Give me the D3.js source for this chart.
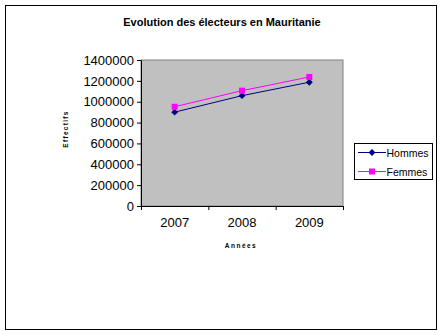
<!DOCTYPE html>
<html><head><meta charset="utf-8">
<script src="https://cdn.jsdelivr.net/npm/d3@7"></script>
<style>body{margin:0;background:#fff}svg{display:block}</style>
</head><body>
<script>
const title = "Evolution des électeurs en Mauritanie";
const years = ["2007", "2008", "2009"];
const hommes = [900000, 1058000, 1187000];
const femmes = [952000, 1106000, 1237000];
const yTicks = [0, 200000, 400000, 600000, 800000, 1000000, 1200000, 1400000];
const seriesNames = ["Hommes", "Femmes"];

const W = 444, H = 336;
const svg = d3.select("body").append("svg").attr("width", W).attr("height", H);
svg.append("rect").attr("x", 5.5).attr("y", 5.5).attr("width", 431).attr("height", 324)
  .attr("fill", "#fff").attr("stroke", "#000").attr("stroke-width", 1);

svg.append("text").attr("x", 222).attr("y", 26).attr("text-anchor", "middle")
  .attr("font-family", "Liberation Sans, Arial").attr("font-weight", "bold").attr("font-size", 11)
  .text(title);

const L = 141, R = 343, T = 60, B = 206;
const x = d3.scaleBand().domain(years).range([L, R]);
const y = d3.scaleLinear().domain([0, 1400000]).range([B, T]);

svg.append("rect").attr("x", L).attr("y", T).attr("width", R - L).attr("height", B - T)
  .attr("fill", "#C0C0C0").attr("stroke", "#808080").attr("stroke-width", 1);

const yAxis = svg.append("g").attr("transform", `translate(${L},0)`)
  .call(d3.axisLeft(y).tickValues(yTicks).tickSize(4).tickPadding(3).tickFormat(d3.format("d")));
yAxis.select(".domain").attr("stroke", "#000");
yAxis.selectAll("line").attr("stroke", "#000");
yAxis.selectAll("text").attr("font-family", "Liberation Sans, Arial").attr("font-size", 13).attr("fill", "#000");

const xAxis = svg.append("g").attr("transform", `translate(0,${B})`)
  .call(d3.axisBottom(x).tickSize(0).tickPadding(12));
xAxis.select(".domain").attr("stroke", "#000");
xAxis.selectAll("text").attr("font-family", "Liberation Sans, Arial").attr("font-size", 13).attr("fill", "#000");
const bounds = years.map(d => x(d)).concat([R]);
xAxis.selectAll(".bt").data(bounds).enter().append("line")
  .attr("x1", d => d + 0.5).attr("x2", d => d + 0.5).attr("y1", 0).attr("y2", 4).attr("stroke", "#000");

svg.append("text").attr("x", 241).attr("y", 248).attr("text-anchor", "middle")
  .attr("font-family", "Liberation Sans, Arial").attr("font-weight", "bold").attr("font-size", 6.5)
  .attr("letter-spacing", 1.5).text("Années");
svg.append("text").attr("transform", "translate(68,129) rotate(-90)").attr("text-anchor", "middle")
  .attr("font-family", "Liberation Sans, Arial").attr("font-weight", "bold").attr("font-size", 6.5)
  .attr("letter-spacing", 1.3).text("Effectifs");

const cx = d => x(d) + x.bandwidth() / 2;
const line = d3.line().x((d, i) => cx(years[i])).y(d => y(d));
const colors = ["#000080", "#FF00FF"];
[hommes, femmes].forEach((s, k) => {
  svg.append("path").datum(s).attr("d", line).attr("fill", "none").attr("stroke", colors[k]).attr("stroke-width", 1);
});
svg.selectAll(".mh").data(hommes).enter().append("path")
  .attr("d", d3.symbol(d3.symbolDiamond2, 30)())
  .attr("transform", (d, i) => `translate(${cx(years[i])},${y(d)})`).attr("fill", colors[0]);
svg.selectAll(".mf").data(femmes).enter().append("rect")
  .attr("x", (d, i) => cx(years[i]) - 3).attr("y", d => y(d) - 3).attr("width", 6).attr("height", 6)
  .attr("fill", colors[1]);

const lg = svg.append("g");
lg.append("rect").attr("x", 354.5).attr("y", 143.5).attr("width", 78).attr("height", 36)
  .attr("fill", "#fff").attr("stroke", "#000");
seriesNames.forEach((n, k) => {
  const yy = 152 + k * 19;
  lg.append("line").attr("x1", 358).attr("x2", 386).attr("y1", yy + 0.5).attr("y2", yy + 0.5).attr("stroke", colors[k]);
  if (k === 0) lg.append("path").attr("d", d3.symbol(d3.symbolDiamond2, 30)()).attr("transform", `translate(372,${yy + 0.5})`).attr("fill", colors[0]);
  else lg.append("rect").attr("x", 369).attr("y", yy - 2.5).attr("width", 6).attr("height", 6).attr("fill", colors[1]);
  lg.append("text").attr("x", 386.5).attr("y", yy + 4.5).attr("font-family", "Liberation Sans, Arial").attr("font-size", 10.5).text(n);
});
</script>
</body></html>
